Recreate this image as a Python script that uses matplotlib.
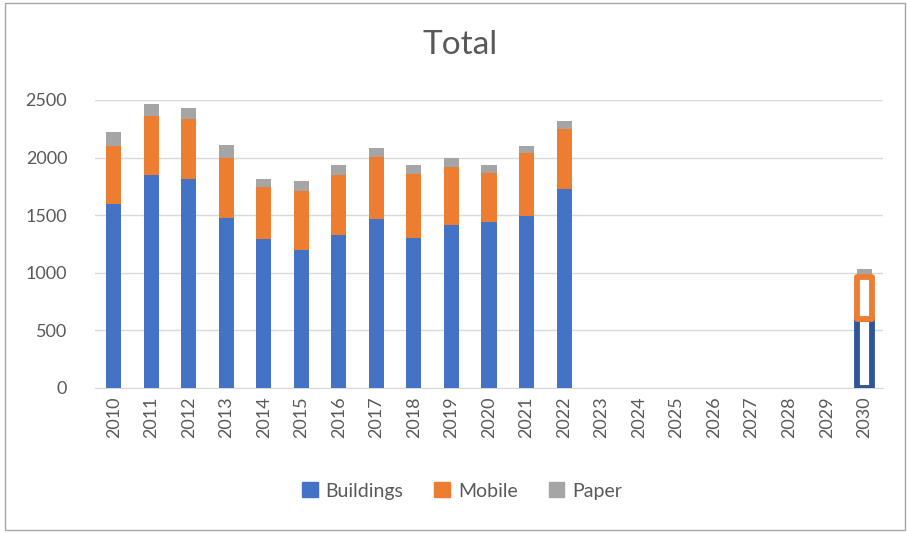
import numpy as np
import matplotlib
matplotlib.use("Agg")
import matplotlib.pyplot as plt
from matplotlib.patches import Rectangle, Patch

plt.rcParams['font.family'] = ['Lato', 'DejaVu Sans']

years = [str(y) for y in range(2010, 2031)]
# 2023-2029 have no data
buildings = [1597, 1846, 1811, 1473, 1296, 1198, 1328, 1464, 1302, 1412, 1438, 1490, 1727,
             np.nan, np.nan, np.nan, np.nan, np.nan, np.nan, np.nan, 600]
mobile = [507, 515, 527, 526, 446, 509, 518, 538, 553, 509, 428, 547, 524,
          np.nan, np.nan, np.nan, np.nan, np.nan, np.nan, np.nan, 363]
paper = [115, 104, 95, 113, 75, 87, 87, 84, 84, 76, 73, 67, 70,
         np.nan, np.nan, np.nan, np.nan, np.nan, np.nan, np.nan, 70]

blue = '#4472C4'
orange = '#ED7D31'
gray = '#A5A5A5'
txt = '#595959'

fig = plt.figure(figsize=(9.07, 5.33), dpi=100)
ax = fig.add_axes([95/907, 1-388/533, 788/907, 288/533])

x = np.arange(len(years))
b = np.nan_to_num(np.array(buildings, dtype=float))
m = np.nan_to_num(np.array(mobile, dtype=float))
p = np.nan_to_num(np.array(paper, dtype=float))
w = 0.4

last = len(years) - 1
hist = x < last
ax.bar(x[hist], b[hist], w, color=blue, zorder=3)
ax.bar(x[hist], m[hist], w, bottom=b[hist], color=orange, zorder=3)
ax.bar(x[hist], p[hist], w, bottom=(b + m)[hist], color=gray, zorder=3)

# 2030 target drawn as outlined bar
ax.bar(x[last], b[last], w, facecolor='white', edgecolor='#2F5597', linewidth=4.2, zorder=3)
ax.bar(x[last], m[last], w, bottom=b[last], facecolor='white', edgecolor=orange,
       linewidth=4.2, joinstyle='round', zorder=4)
ax.bar(x[last], p[last], w, bottom=b[last] + m[last], color=gray, zorder=3)

ax.set_xlim(-0.5, len(years) - 0.5)
ax.set_ylim(0, 2500)
ax.set_yticks(range(0, 2501, 500))
ax.set_xticks(x)
ax.set_xticklabels(years, rotation=90)
ax.tick_params(axis='both', length=0, labelsize=13, colors=txt)
ax.tick_params(axis='y', pad=20)
ax.tick_params(axis='x', pad=6)
ax.grid(axis='y', color='#D9D9D9', linewidth=1, zorder=0)
for s in ['top', 'right', 'left']:
    ax.spines[s].set_visible(False)
ax.spines['bottom'].set_color('#D9D9D9')

fig.text(460/907, 1-45/533, 'Total', ha='center', va='center', fontsize=24, color=txt)

handles = [Patch(color=blue, label='Buildings'), Patch(color=orange, label='Mobile'),
           Patch(color=gray, label='Paper')]
fig.legend(handles=handles, loc='center', bbox_to_anchor=(462/907, 1-491/533), ncol=3,
           frameon=False, fontsize=14, labelcolor=txt, handlelength=0.8, handleheight=0.8,
           handletextpad=0.4, columnspacing=1.6)

fig.add_artist(Rectangle((5/907, 3/533), 900/907, 527/533, transform=fig.transFigure,
                         fill=False, edgecolor='#A6A6A6', linewidth=1))

fig.savefig('out.png', dpi=100)
